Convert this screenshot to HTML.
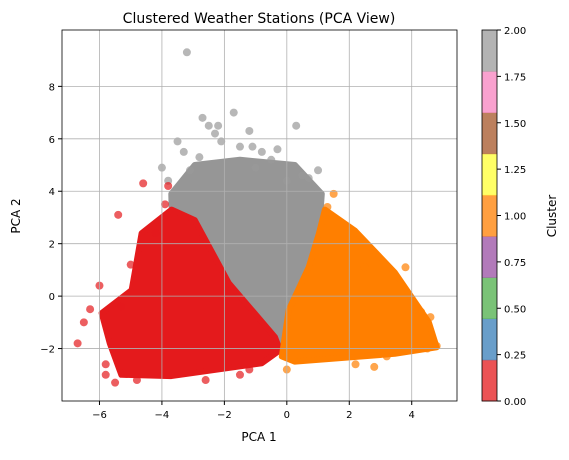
<!DOCTYPE html>
<html><head><meta charset="utf-8">
<style>
body{margin:0;background:#fff;font-family:"Liberation Sans","DejaVu Sans",sans-serif;}
svg text{font-family:"DejaVu Sans","Liberation Sans",sans-serif;}
</style></head>
<body>
<svg id="chart" width="569" height="455" xmlns="http://www.w3.org/2000/svg">
<text x="259" y="23" text-anchor="middle" font-size="14">Clustered Weather Stations (PCA View)</text>
<g id="marks"></g>
<g id="grid"></g>
<rect x="62" y="30" width="395" height="371" fill="none" stroke="#000" stroke-width="0.8"/>
<g id="axes"></g>
<text x="259" y="441" text-anchor="middle" font-size="12">PCA 1</text>
<text transform="translate(20,216) rotate(-90)" text-anchor="middle" font-size="12">PCA 2</text>
<g id="cbar"></g>
<text transform="translate(556,216) rotate(-90)" text-anchor="middle" font-size="12">Cluster</text>
</svg>
<script>
const xTicks=[-6,-4,-2,0,2,4];
const yTicks=[-2,0,2,4,6,8];
const cbTicks=[0,0.25,0.5,0.75,1,1.25,1.5,1.75,2];
const cbColors=["#e41a1c","#377eb8","#4daf4a","#984ea3","#ff7f00","#ffff33","#a65628","#f781bf","#999999"];
const grayArea=[[-3.7,3.9],[-2.95,5.0],[-1.5,5.2],[0.26,5.0],[1.12,3.9],[1.03,2.4],[0.26,-0.15],[-0.16,-1.56],[-0.3,-2.0],[-1.86,0.5],[-2.95,2.9],[-3.69,3.4]];
const redArea=[[-3.69,3.3],[-2.95,2.9],[-1.86,0.5],[-0.38,-1.56],[-0.22,-2.06],[-0.8,-2.56],[-3.7,-3.05],[-5.3,-3.0],[-5.67,-1.8],[-5.93,-0.65],[-4.97,0.23],[-4.65,2.4]];
const orangeArea=[[1.22,3.3],[2.18,2.5],[3.46,0.9],[4.55,-1.0],[4.8,-1.95],[3.46,-2.2],[0.26,-2.5],[-0.16,-2.3],[0.06,-0.53],[0.7,1.1],[1.03,2.4]];
const grayX=[-3.2,-2.5,-2.7,-1.7,-2.3,-3.5,0.3,-1.2,-4,-0.8,-1.5,1,-2.2,-0.5,0,-3.3,-2.8,0.5,-1,-3.8,-2.1,-1.1,0.7,-3.1,-0.3];
const grayY=[9.3,6.5,6.8,7,6.2,5.9,6.5,6.3,4.9,5.5,5.7,4.8,6.5,5.2,4.4,5.5,5.3,4.6,4.9,4.4,5.9,5.7,4.5,4.8,5.6];
const redX=[-5.4,-4.6,-4.2,-3.8,-6.7,-6,-6.3,-5.8,-6.5,-5.5,-2.6,-1.5,-5.3,-5,-3.9,-1.2,-4.8,-5.8];
const redY=[3.1,4.3,2.4,4.2,-1.8,0.4,-0.5,-3,-1,-3.3,-3.2,-3,-0.4,1.2,3.5,-2.8,-3.2,-2.6];
const orangeX=[4.6,4.8,4.5,2.8,2.2,0,3.8,2.5,4.1,1.5,1.3,4.3,3.2];
const orangeY=[-0.8,-1.9,-2,-2.7,-2.6,-2.8,1.1,1.1,-0.5,3.9,3.4,-0.6,-2.3];
const NS="http://www.w3.org/2000/svg";
const X0=62,X1=457,Y0=30,Y1=401,xmin=-7.2,xmax=5.45,ymin=-4.0,ymax=10.15;
const sx=v=>X0+(v-xmin)/(xmax-xmin)*(X1-X0);
const sy=v=>Y1-(v-ymin)/(ymax-ymin)*(Y1-Y0);
function mk(t,a,p){const e=document.createElementNS(NS,t);for(const k in a)e.setAttribute(k,a[k]);p.appendChild(e);return e;}
const grid=document.getElementById('grid'),axes=document.getElementById('axes'),marks=document.getElementById('marks'),cbar=document.getElementById('cbar');
xTicks.forEach(v=>{const x=sx(v);
 const l=mk('line',{x1:x,x2:x,y1:Y0,y2:Y1,stroke:'#b0b0b0','stroke-width':0.8},grid);
 
 mk('line',{x1:x,x2:x,y1:Y1,y2:Y1+4,stroke:'#000'},axes);
 const t=mk('text',{x:x,y:Y1+17,'text-anchor':'middle','font-size':10},axes);t.textContent=(v<0?'\u2212':'')+Math.abs(v);
 });
yTicks.forEach(v=>{const y=sy(v);
 const l=mk('line',{x1:X0,x2:X1,y1:y,y2:y,stroke:'#b0b0b0','stroke-width':0.8},grid);
 
 mk('line',{x1:X0-4,x2:X0,y1:y,y2:y,stroke:'#000'},axes);
 const t=mk('text',{x:X0-7,y:y+4,'text-anchor':'end','font-size':10},axes);t.textContent=(v<0?'\u2212':'')+Math.abs(v);
 });
function area(pts,col,name){const p=mk('polygon',{points:pts.map(q=>sx(q[0])+','+sy(q[1])).join(' '),fill:col,stroke:col,'stroke-width':6,'stroke-linejoin':'round'},marks);
 }
function pts(xs,ys,col,name){xs.forEach((x,i)=>{const c=mk('circle',{cx:sx(x),cy:sy(ys[i]),r:4,fill:col,'fill-opacity':0.7},marks);
 });}
area(grayArea,'#969696','cluster-2-area');
area(redArea,'#e41a1c','cluster-0-area');
area(orangeArea,'#ff7f00','cluster-1-area');
pts(grayX,grayY,'#999999','cluster-2-point');
pts(redX,redY,'#e41a1c','cluster-0-point');
pts(orangeX,orangeY,'#ff7f00','cluster-1-point');
const CX=482,CW=15,CY0=30,CY1=401,bh=(CY1-CY0)/cbColors.length;
cbColors.forEach((c,i)=>{const r=mk('rect',{x:CX,y:CY1-(i+1)*bh,width:CW,height:bh+0.5,fill:c,'fill-opacity':0.75},cbar);
 });
mk('rect',{x:CX,y:CY0,width:CW,height:CY1-CY0,fill:'none',stroke:'#000','stroke-width':0.8},cbar);
cbTicks.forEach(v=>{const y=CY1-v/2*(CY1-CY0);
 mk('line',{x1:CX+CW,x2:CX+CW+4,y1:y,y2:y,stroke:'#000'},cbar);
 const t=mk('text',{x:CX+CW+7,y:y+4,'font-size':10},cbar);t.textContent=v.toFixed(2);
 });
</script>
</body></html>
